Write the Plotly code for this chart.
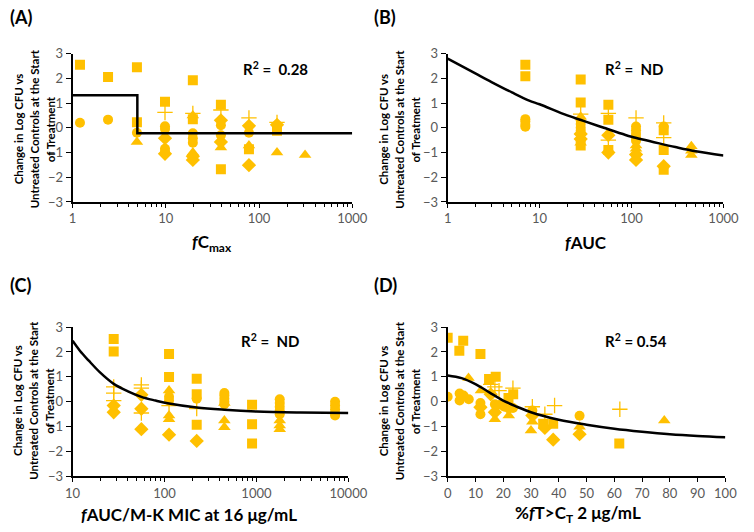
import plotly.graph_objects as go

GOLD = "#FFC000"
FONT = "Lato"

# ---------------- Panel A: fCmax ----------------
A_sq_x = [1.2, 2.4, 4.9, 4.9, 9.8, 19.5, 19.5, 39, 39, 78, 156]
A_sq_y = [2.55, 2.05, 2.45, 0.22, 1.05, 1.92, 0.35, 0.93, -1.68, -0.87, -0.12]
A_ci_x = [1.2, 2.4, 4.9, 9.8, 9.8, 9.8, 9.8, 19.5, 19.5, 19.5, 39, 39, 78, 156]
A_ci_y = [0.2, 0.33, -0.2, 0.06, -0.05, -0.85, -0.97, -0.22, -0.42, -0.6, 0.1, -0.3, -0.2, 0.05]
A_di_x = [9.8, 9.8, 19.5, 19.5, 39, 39, 78, 78, 156]
A_di_y = [-0.42, -1.05, -1.15, -1.3, 0.3, -0.57, 0.08, -1.51, 0.12]
A_tr_x = [4.9, 19.5, 19.5, 39, 78, 156, 312]
A_tr_y = [-0.57, 0.5, -1.0, -0.8, -0.72, -1.0, -1.1]
A_cr_x = [9.8, 19.5, 39, 78, 156]
A_cr_y = [0.62, 0.58, 0.72, 0.4, 0.22]
A_fit_x = [1, 4.95, 4.95, 1000]
A_fit_y = [1.32, 1.32, -0.22, -0.22]

# ---------------- Panel B: fAUC ----------------
B_sq_x = [7, 7, 28, 28, 28, 56, 56, 56, 224, 224, 224]
B_sq_y = [2.55, 2.08, 1.95, 1.02, -0.72, 0.93, 0.32, -0.9, -0.1, -0.9, -1.7]
B_ci_x = [7, 7, 7, 7, 28, 28, 28, 28, 112, 112, 112, 112, 112, 224]
B_ci_y = [0.35, 0.25, 0.12, 0.04, 0.3, 0.15, 0.0, -0.12, 0.05, -0.1, -0.25, -0.4, -0.52, 0.05]
B_di_x = [28, 28, 56, 56, 112, 112, 224]
B_di_y = [-0.25, -0.45, -0.3, -1.0, -1.08, -1.3, -1.55]
B_tr_x = [28, 28, 112, 112, 448, 448, 448]
B_tr_y = [0.45, -0.6, -0.72, -0.85, -0.75, -0.93, -1.1]
B_cr_x = [28, 56, 56, 112, 224, 224]
B_cr_y = [0.55, 0.58, -0.5, 0.4, 0.2, -0.4]
B_fit_x = [1, 2, 3, 5, 7.7, 10, 20, 30, 50, 86, 100, 200, 300, 500, 1000]
B_fit_y = [2.8, 2.2, 1.85, 1.43, 1.1, 0.95, 0.5, 0.28, 0.0, -0.29, -0.36, -0.63, -0.78, -0.95, -1.12]

# ---------------- Panel C: fAUC/M-K MIC ----------------
C_sq_x = [28, 28, 112, 112, 224, 224, 224, 896, 896, 896]
C_sq_y = [2.52, 2.02, 1.92, 1.0, 0.93, 0.3, -0.92, -0.12, -0.9, -1.68]
C_ci_x = [112, 112, 224, 448, 448, 448, 448, 448, 1792, 1792, 1792, 1792, 1792, 7168, 7168, 7168, 7168, 7168]
C_ci_y = [0.2, 0.05, 0.12, 0.35, 0.25, 0.12, 0.0, -0.1, 0.1, -0.05, -0.2, -0.35, -0.5, 0.0, -0.15, -0.3, -0.45, -0.55]
C_di_x = [28, 28, 56, 56, 56, 112, 224]
C_di_y = [-0.15, -0.42, 0.28, -0.28, -1.1, -1.32, -1.57]
C_tr_x = [112, 112, 112, 448, 448, 448, 1792, 1792, 1792]
C_tr_y = [0.45, -0.55, -0.7, -0.05, -0.75, -1.02, -0.75, -0.95, -1.1]
C_cr_x = [28, 28, 28, 56, 56, 56, 112, 224]
C_cr_y = [0.6, 0.35, 0.05, 0.68, 0.55, -0.45, -0.15, -0.27]
C_fit_x = [10, 12, 15, 20, 28, 40, 56, 80, 112, 224, 448, 1000, 3000, 10000]
C_fit_y = [2.45, 2.05, 1.65, 1.17, 0.72, 0.42, 0.2, 0.05, -0.07, -0.23, -0.32, -0.39, -0.43, -0.45]

# ---------------- Panel D: %fT>CT ----------------
D_sq_x = [0, 4.2, 5.6, 11.8, 14.9, 17.3, 21.9, 23.6, 34.4, 38, 61.8]
D_sq_y = [2.57, 2.05, 2.45, 1.92, 0.92, 1.01, 0.15, 0.3, -0.88, -0.88, -1.68]
D_ci_x = [0, 4.3, 4.3, 5.7, 7.6, 11.8, 11.8, 17, 19, 20.5, 23.5, 30.5, 47.5]
D_ci_y = [0.2, 0.33, 0.05, 0.25, 0.1, -0.05, -0.5, -0.1, -0.12, -0.2, -0.25, -0.35, -0.56]
D_di_x = [11.8, 15.5, 17, 22, 30.5, 35, 38, 47.5]
D_di_y = [-0.22, 0.3, -0.42, -0.25, -0.55, -1.05, -1.52, -1.3]
D_tr_x = [7.5, 12, 17, 22, 30, 30.5, 47.5, 78]
D_tr_y = [0.96, 0.45, -0.7, -0.55, -1.15, -0.8, -1.0, -0.75]
D_cr_x = [15.5, 17, 18.5, 23.5, 30.5, 35, 38.5, 62]
D_cr_y = [0.7, 0.6, 0.45, 0.55, -0.2, -0.5, -0.15, -0.3]
D_fit_x = [0, 5, 10, 15, 20, 25, 30, 40, 50, 60, 70, 80, 90, 100]
D_fit_y = [1.06, 0.95, 0.71, 0.38, 0.05, -0.2, -0.42, -0.72, -0.92, -1.08, -1.2, -1.3, -1.37, -1.42]

panels = [
    dict(sq=(A_sq_x, A_sq_y), ci=(A_ci_x, A_ci_y), di=(A_di_x, A_di_y), tr=(A_tr_x, A_tr_y), cr=(A_cr_x, A_cr_y), fit=(A_fit_x, A_fit_y), shape="linear"),
    dict(sq=(B_sq_x, B_sq_y), ci=(B_ci_x, B_ci_y), di=(B_di_x, B_di_y), tr=(B_tr_x, B_tr_y), cr=(B_cr_x, B_cr_y), fit=(B_fit_x, B_fit_y), shape="spline"),
    dict(sq=(C_sq_x, C_sq_y), ci=(C_ci_x, C_ci_y), di=(C_di_x, C_di_y), tr=(C_tr_x, C_tr_y), cr=(C_cr_x, C_cr_y), fit=(C_fit_x, C_fit_y), shape="spline"),
    dict(sq=(D_sq_x, D_sq_y), ci=(D_ci_x, D_ci_y), di=(D_di_x, D_di_y), tr=(D_tr_x, D_tr_y), cr=(D_cr_x, D_cr_y), fit=(D_fit_x, D_fit_y), shape="spline"),
]

W, H = 754, 532
# plot-area pixel boxes (left, right, top, bottom)
boxes = [(67, 357, 47, 200), (456, 742, 47, 200), (67, 353, 329, 483), (456, 744, 329, 483)]

symbols = [("sq", "square", 10), ("ci", "circle", 10), ("di", "diamond", 11), ("tr", "triangle-up", 11)]

fig = go.Figure()
for i, p in enumerate(panels):
    xa = "x" if i == 0 else f"x{i+1}"
    ya = "y" if i == 0 else f"y{i+1}"
    for key, sym, sz in symbols:
        fig.add_trace(go.Scatter(x=p[key][0], y=p[key][1], mode="markers", xaxis=xa, yaxis=ya,
                                 marker=dict(symbol=sym, size=sz, color=GOLD, line=dict(width=0)),
                                 showlegend=False, hoverinfo="skip"))
    fig.add_trace(go.Scatter(x=p["cr"][0], y=p["cr"][1], mode="markers", xaxis=xa, yaxis=ya,
                             marker=dict(symbol="cross-thin", size=11, color=GOLD, line=dict(width=1.3, color=GOLD)),
                             showlegend=False, hoverinfo="skip"))
    fig.add_trace(go.Scatter(x=p["fit"][0], y=p["fit"][1], mode="lines", xaxis=xa, yaxis=ya,
                             line=dict(color="black", width=2.5, shape=p["shape"], smoothing=1.0),
                             showlegend=False, hoverinfo="skip"))

tickfont = dict(family=FONT, size=13, color="#595959")
layout = dict(width=W, height=H, autosize=False, margin=dict(l=0, r=0, t=0, b=0),
              paper_bgcolor="white", plot_bgcolor="white")

xranges = [(0, 3), (0, 3), (1, 4), (0, 100)]
for i, (l, r, t, b) in enumerate(boxes):
    xk = "xaxis" if i == 0 else f"xaxis{i+1}"
    yk = "yaxis" if i == 0 else f"yaxis{i+1}"
    xa = "x" if i == 0 else f"x{i+1}"
    ya = "y" if i == 0 else f"y{i+1}"
    xd = dict(domain=[l / W, r / W], anchor=ya, showline=True, linecolor="black", linewidth=1.5,
              showgrid=False, zeroline=False, ticks="outside", ticklen=4, tickcolor="black",
              tickfont=tickfont, range=list(xranges[i]), fixedrange=True)
    if i < 3:
        xd.update(type="log", dtick=1, tickformat="d",
                  minor=dict(ticks="outside", ticklen=3, tickcolor="black", dtick="D1", showgrid=False))
    else:
        xd.update(dtick=10, tick0=0)
    yd = dict(domain=[1 - b / H, 1 - t / H], anchor=xa, showline=True, linecolor="black", linewidth=2,
              showgrid=False, zeroline=False, ticks="outside", ticklen=5, tickcolor="black",
              tickfont=tickfont, range=[-3, 3], dtick=1, fixedrange=True)
    layout[xk] = xd
    layout[yk] = yd

fig.update_layout(**layout)

ytitle_lines = ["Change in Log CFU vs", "Untreated Controls at the Start", "of Treatment"]
ann = []
letters = [("(A)", 0, 9), ("(B)", 377, 9), ("(C)", 0, 286), ("(D)", 377, 286)]
for txt, x, y in letters:
    ann.append(dict(text=f"<b>{txt}</b>", x=x / W, y=1 - y / H, xref="paper", yref="paper",
                    xanchor="left", yanchor="middle", showarrow=False,
                    font=dict(family=FONT, size=18, color="black")))
ycenters = [(27, 125), (406, 125), (27, 405), (406, 405)]
for x, y in ycenters:
    for k, line in enumerate(ytitle_lines):
        ann.append(dict(text=f"<b>{line}</b>", x=(x + (k - 1) * 16.5) / W, y=1 - y / H,
                        xref="paper", yref="paper",
                        xanchor="center", yanchor="middle", showarrow=False, textangle=-90,
                        font=dict(family=FONT, size=11.5, color="black")))
xtitles = [("<b><i>f</i>C<sub>max</sub></b>", 212, 242), ("<b><i>f</i>AUC</b>", 599, 242),
           ("<b><i>f</i>AUC/M-K MIC at 16 μg/mL</b>", 188, 522), ("<b>%<i>f</i>T&gt;C<sub>T</sub> 2 μg/mL</b>", 591, 522)]
for txt, x, y in xtitles:
    ann.append(dict(text=txt, x=x / W, y=1 - y / H, xref="paper", yref="paper",
                    xanchor="center", yanchor="middle", showarrow=False,
                    font=dict(family=FONT, size=17, color="black")))
r2 = [("R<sup>2</sup> =  0.28", 277, 62), ("R<sup>2</sup> =  ND", 649, 62),
      ("R<sup>2</sup> =  ND", 272, 343), ("R<sup>2</sup> = 0.54", 651, 343)]
for txt, x, y in r2:
    ann.append(dict(text=f"<b>{txt}</b>", x=x / W, y=1 - y / H, xref="paper", yref="paper",
                    xanchor="center", yanchor="middle", showarrow=False,
                    font=dict(family=FONT, size=15, color="black")))
fig.update_layout(annotations=ann)

fig.write_html("out.html")
